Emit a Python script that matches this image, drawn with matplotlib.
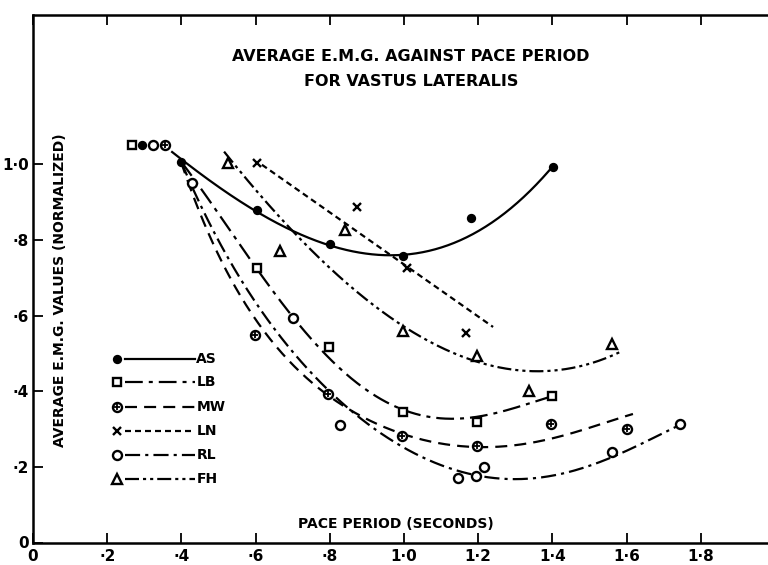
import numpy as np
import matplotlib.pyplot as plt

plt.rcParams['font.family'] = ['Liberation Sans Narrow', 'DejaVu Sans']
plt.rcParams['font.weight'] = 'bold'

# measured points (pace period in s, normalized average EMG)
as_x = [0.294, 0.399, 0.604, 0.801, 0.997, 1.181, 1.402]
as_y = [1.052, 1.007, 0.880, 0.790, 0.758, 0.858, 0.993]
lb_x = [0.267, 0.604, 0.798, 0.997, 1.197, 1.399]
lb_y = [1.052, 0.726, 0.517, 0.345, 0.319, 0.388]
mw_x = [0.356, 0.598, 0.795, 0.995, 1.197, 1.396, 1.601]
mw_y = [1.052, 0.549, 0.393, 0.282, 0.255, 0.313, 0.300]
ln_x = [0.604, 0.873, 1.008, 1.167]
ln_y = [1.004, 0.888, 0.726, 0.554]
rl_x = [0.323, 0.429, 0.701, 0.827, 1.146, 1.194, 1.216, 1.561, 1.744]
rl_y = [1.052, 0.951, 0.594, 0.311, 0.171, 0.176, 0.200, 0.239, 0.313]
fh_x = [0.526, 0.666, 0.841, 0.997, 1.197, 1.337, 1.561]
fh_y = [1.004, 0.771, 0.827, 0.560, 0.493, 0.401, 0.525]

# hand drawn trend curves
as_cx = [0.375, 0.399, 0.604, 0.712, 0.801, 0.962, 1.116, 1.181, 1.294, 1.394]
as_cy = [1.038, 1.007, 0.880, 0.813, 0.787, 0.761, 0.782, 0.813, 0.893, 0.985]
lb_cx = [0.399, 0.604, 0.701, 0.854, 0.962, 1.070, 1.151, 1.224, 1.305, 1.399]
lb_cy = [1.007, 0.726, 0.594, 0.430, 0.374, 0.332, 0.327, 0.337, 0.356, 0.388]
mw_cx = [0.399, 0.504, 0.571, 0.639, 0.720, 0.795, 0.995, 1.197, 1.305, 1.394, 1.509, 1.617]
mw_cy = [1.007, 0.753, 0.628, 0.541, 0.451, 0.393, 0.282, 0.255, 0.258, 0.276, 0.303, 0.341]
ln_cx = [0.617, 1.240]
ln_cy = [0.999, 0.570]
rl_cx = [0.399, 0.593, 0.658, 0.739, 0.801, 0.881, 1.051, 1.143, 1.213, 1.286, 1.348, 1.482, 1.590, 1.744]
rl_cy = [1.007, 0.649, 0.554, 0.456, 0.398, 0.332, 0.226, 0.192, 0.173, 0.165, 0.171, 0.197, 0.239, 0.311]
fh_cx = [0.515, 0.712, 0.989, 1.070, 1.197, 1.332, 1.439, 1.582]
fh_cy = [1.033, 0.813, 0.578, 0.526, 0.483, 0.451, 0.461, 0.503]

subjects = ['AS', 'LB', 'MW', 'LN', 'RL', 'FH']
xticks = [0, 0.2, 0.4, 0.6, 0.8, 1.0, 1.2, 1.4, 1.6, 1.8]
xtick_labels = ['0', '·2', '·4', '·6', '·8', '1·0', '1·2', '1·4', '1·6', '1·8']
yticks = [0, 0.2, 0.4, 0.6, 0.8, 1.0]
ytick_labels = ['0', '·2', '·4', '·6', '·8', '1·0']


def trend(xs, ys, deg):
    # smooth polynomial through the traced curve
    if len(xs) < 3:
        return np.array(xs), np.array(ys)
    c = np.polyfit(xs, ys, deg)
    xx = np.linspace(xs[0], xs[-1], 300)
    return xx, np.polyval(c, xx)


styles = {
    'AS': dict(ls='-', marker='o', mfc='black', ms=5, deg=3),
    'LB': dict(ls=(0, (8, 2.7, 1.8, 2.7)), marker='s', mfc='white', ms=5.5, deg=4),
    'MW': dict(ls=(0, (5.4, 3.2)), marker='o', mfc='white', ms=6.5, deg=5),
    'LN': dict(ls=(0, (2.7, 1.8)), marker='x', mfc='black', ms=5.5, deg=1),
    'RL': dict(ls=(0, (6.8, 2.3, 1.4, 2.3)), marker='o', mfc='white', ms=6.5, deg=5),
    'FH': dict(ls=(0, (6.3, 1.8, 1.4, 1.8, 1.4, 1.8)), marker='^', mfc='white', ms=6.5, deg=3),
}
points = {'AS': (as_x, as_y), 'LB': (lb_x, lb_y), 'MW': (mw_x, mw_y),
          'LN': (ln_x, ln_y), 'RL': (rl_x, rl_y), 'FH': (fh_x, fh_y)}
curves = {'AS': (as_cx, as_cy), 'LB': (lb_cx, lb_cy), 'MW': (mw_cx, mw_cy),
          'LN': (ln_cx, ln_cy), 'RL': (rl_cx, rl_cy), 'FH': (fh_cx, fh_cy)}

fig = plt.figure(figsize=(7.68, 5.65), dpi=100)
ax = fig.add_axes([33 / 768, 22.5 / 565, 735 / 768, 527.5 / 565])


def draw_marker(x, y, name):
    st = styles[name]
    ax.plot(x, y, ls='none', marker=st['marker'], ms=st['ms'], mfc=st['mfc'],
            mec='black', mew=1.7, color='black', zorder=4)
    if name == 'MW':
        ax.plot(x, y, ls='none', marker='+', ms=4.5, mew=1.3, color='black', zorder=5)


for name in subjects:
    cx, cy = trend(*curves[name], styles[name]['deg'])
    ax.plot(cx, cy, color='black', lw=1.6, ls=styles[name]['ls'], zorder=3)
    draw_marker(*points[name], name)

# legend drawn by hand: marker, line, label
leg_y = [0.485, 0.425, 0.358, 0.295, 0.231, 0.168]
for name, ly in zip(subjects, leg_y):
    draw_marker([0.226], [ly], name)
    ax.plot([0.248, 0.437], [ly, ly], color='black', lw=1.6, ls=styles[name]['ls'], zorder=3)
    ax.text(0.440, ly, name, fontsize=10, fontweight='bold', va='center', ha='left')

ax.text(1.019, 1.284, 'AVERAGE E.M.G. AGAINST PACE PERIOD', fontsize=11.5,
        fontweight='bold', ha='center', va='center')
ax.text(1.019, 1.218, 'FOR VASTUS LATERALIS', fontsize=11.5,
        fontweight='bold', ha='center', va='center')
ax.text(0.073, 0.668, 'AVERAGE E.M.G. VALUES (NORMALIZED)', fontsize=10,
        fontweight='bold', rotation=90, ha='center', va='center')
ax.text(0.978, 0.049, 'PACE PERIOD (SECONDS)', fontsize=10,
        fontweight='bold', ha='center', va='center')

ax.set_xlim(0, 1.981)
ax.set_ylim(0, 1.395)
ax.set_xticks(xticks)
ax.set_xticklabels(xtick_labels, fontsize=11, fontweight='bold')
ax.set_yticks(yticks)
ax.set_yticklabels(ytick_labels, fontsize=11, fontweight='bold')
ax.tick_params(axis='x', direction='in', length=7, width=1.3, top=True, pad=5)
ax.tick_params(axis='y', direction='in', length=7, width=1.3, pad=3)
ax.spines['right'].set_visible(False)
for s in ['left', 'bottom', 'top']:
    ax.spines[s].set_linewidth(1.8)

fig.savefig('out.png', dpi=100)
